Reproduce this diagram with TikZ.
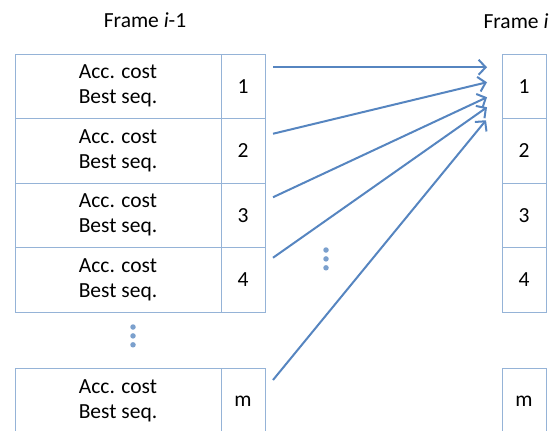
\documentclass[tikz,border=0pt]{standalone}
\usepackage{fontspec}
\setmainfont{Carlito}
\usetikzlibrary{arrows.meta,positioning,calc}
\definecolor{cellBlue}{HTML}{95B3D7}
\definecolor{arrowBlue}{HTML}{5685C0}
\definecolor{dotBlue}{HTML}{7BA0CD}
\tikzset{
  cost cell/.style={draw=cellBlue,line width=0.9pt,minimum width=206pt,
    minimum height=64.5pt,inner sep=0pt,outer sep=0pt,align=center,
    font=\fontsize{21.5}{25}\selectfont},
  index cell/.style={draw=cellBlue,line width=0.9pt,minimum width=44pt,
    minimum height=64.5pt,inner sep=0pt,outer sep=0pt,
    font=\fontsize{21.5}{25}\selectfont},
  frame label/.style={font=\fontsize{21.5}{25}\selectfont},
  flow arrow/.style={-{Straight Barb[length=7pt,width=15pt]},draw=arrowBlue,
    line width=2pt},
  more dot/.style={circle,fill=dotBlue,draw=none,inner sep=0pt,minimum size=5.5pt}
}

\begin{document}
\begin{tikzpicture}[x=1pt,y=1pt]
      \useasboundingbox (0,0) rectangle (555,-431);
      \clip (0,0) rectangle (555,-431);
      \node[frame label] (prevlabel) at (145,-20) {Frame \textit{i}-1};
      \node[frame label] (curlabel) at (516,-21) {Frame \textit{i}};
      % frame i-1
      \node[cost cell,anchor=north west] (c1) at (15,-54) {Acc. cost\\Best seq.};
      \node[cost cell,below=0pt of c1] (c2) {Acc. cost\\Best seq.};
      \node[cost cell,below=0pt of c2] (c3) {Acc. cost\\Best seq.};
      \node[cost cell,below=0pt of c3] (c4) {Acc. cost\\Best seq.};
      \node[cost cell,anchor=north west,minimum height=66pt] (cm) at (15,-368)
        {Acc. cost\\Best seq.};
      \node[index cell,right=0pt of c1] (p1) {1};
      \node[index cell,right=0pt of c2] (p2) {2};
      \node[index cell,right=0pt of c3] (p3) {3};
      \node[index cell,right=0pt of c4] (p4) {4};
      \node[index cell,right=0pt of cm,minimum height=66pt] (pm) {m};
      % frame i
      \node[index cell,anchor=north west] (q1) at (502,-54) {1};
      \node[index cell,below=0pt of q1] (q2) {2};
      \node[index cell,below=0pt of q2] (q3) {3};
      \node[index cell,below=0pt of q3] (q4) {4};
      \node[index cell,anchor=north west,minimum height=66pt] (qm) at (502,-368) {m};
      % arrow ends
      \coordinate[above right=19pt and 8pt of p1.east] (s1);
      \coordinate[above right=17pt and 8pt of p2.east] (s2);
      \coordinate[above right=18pt and 8pt of p3.east] (s3);
      \coordinate[above right=22pt and 8pt of p4.east] (s4);
      \coordinate[above right=21pt and 8pt of pm.east] (sm);
      \coordinate[above left=19pt and 15pt of q1.west] (t1);
      \coordinate[above left=4pt and 15pt of q1.west] (t2);
      \coordinate[below left=11pt and 15pt of q1.west] (t3);
      \coordinate[below left=21pt and 15pt of q1.west] (t4);
      \coordinate[below left=34pt and 16pt of q1.west] (tm);
      \draw[flow arrow] (s1) -- (t1);
      \draw[flow arrow] (s2) -- (t2);
      \draw[flow arrow] (s3) -- (t3);
      \draw[flow arrow] (s4) -- (t4);
      \draw[flow arrow] (sm) -- (tm);
      % dots
      \node[more dot] (ld1) at (133,-327) {};
      \node[more dot,below=3pt of ld1] (ld2) {};
      \node[more dot,below=3pt of ld2] (ld3) {};
      \node[more dot] (md1) at (326,-250) {};
      \node[more dot,below=3pt of md1] (md2) {};
      \node[more dot,below=3pt of md2] (md3) {};
    \end{tikzpicture}
\end{document}
